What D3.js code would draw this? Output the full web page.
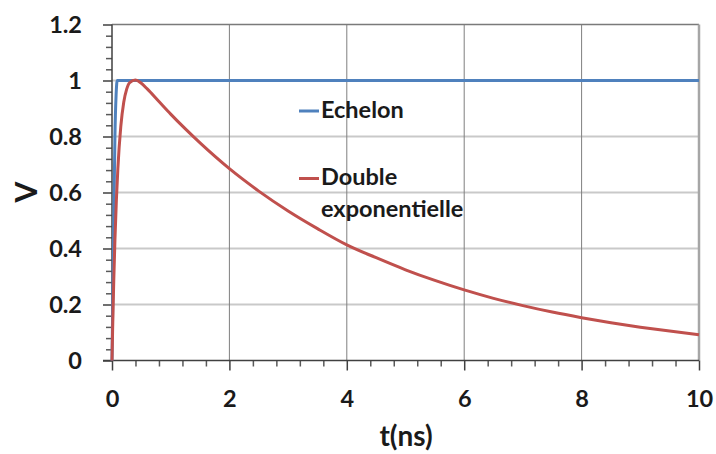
<!DOCTYPE html>
<html>
<head>
<meta charset="utf-8">
<script src="https://cdn.jsdelivr.net/npm/d3@7/dist/d3.min.js"></script>
<style>
  html, body { margin: 0; padding: 0; background: #fff; }
  svg { display: block; }
  text { font-family: Lato, "Open Sans", sans-serif; font-weight: bold; fill: #1a1a1a; }
</style>
</head>
<body>
<svg id="chart" width="716" height="454"></svg>
<script>
// ---- data ----
const xTicks = [0, 2, 4, 6, 8, 10];
const xTickLabels = ["0", "2", "4", "6", "8", "10"];
const yTicks = [0, 0.2, 0.4, 0.6, 0.8, 1, 1.2];
const yTickLabels = ["0", "0.2", "0.4", "0.6", "0.8", "1", "1.2"];
const seriesNames = ["Echelon", "Double exponentielle"];

const echelonT = [0, 0.035, 0.05, 0.07, 0.09, 10];
const echelonV = [0, 0.57, 0.8, 0.95, 1, 1];

const doubleT = [0, 0.01, 0.02, 0.03, 0.05, 0.075, 0.1, 0.15, 0.2, 0.25, 0.3, 0.4, 0.5, 0.6, 0.8,
                 1, 1.25, 1.5, 2, 2.5, 3, 3.5, 4, 4.5, 5, 5.5, 6, 6.5, 7, 7.5, 8, 8.5, 9, 9.5, 10];
const doubleV = [0, 0.105, 0.199, 0.284, 0.431, 0.575, 0.686, 0.836, 0.922, 0.969, 0.992, 1.002, 0.990, 0.970, 0.925,
                 0.880, 0.827, 0.777, 0.685, 0.605, 0.534, 0.471, 0.413, 0.367, 0.324, 0.286, 0.252, 0.222, 0.196, 0.173, 0.153, 0.135, 0.119, 0.105, 0.092];

const colors = ["#4F81BD", "#C0504D"];

// ---- layout ----
const svg = d3.select("#chart");
const x = d3.scaleLinear().domain([0, 10]).range([112, 699]);
const y = d3.scaleLinear().domain([0, 1.2]).range([360.5, 24.5]);

// horizontal gridlines
svg.append("g").selectAll("line")
  .data(yTicks.filter(v => v > 0 && v < 1.2))
  .join("line")
  .attr("x1", x(0)).attr("x2", x(10))
  .attr("y1", d => y(d)).attr("y2", d => y(d))
  .attr("stroke", "#c9c9c9").attr("stroke-width", 2);

// vertical gridlines
svg.append("g").selectAll("line")
  .data(xTicks.filter(v => v > 0 && v < 10))
  .join("line")
  .attr("x1", d => x(d)).attr("x2", d => x(d))
  .attr("y1", y(0)).attr("y2", y(1.2))
  .attr("stroke", "#7f7f7f").attr("stroke-width", 1);

// plot border: top and right
svg.append("line")
  .attr("x1", x(0)).attr("x2", x(10)).attr("y1", y(1.2)).attr("y2", y(1.2))
  .attr("stroke", "#7a7a7a").attr("stroke-width", 1.5);
svg.append("line")
  .attr("x1", x(10)).attr("x2", x(10)).attr("y1", y(1.2)).attr("y2", y(0))
  .attr("stroke", "#a6a6a6").attr("stroke-width", 2.5);

// minor ticks
const yMinor = d3.range(0, 1.2001, 0.04).filter(v => !yTicks.some(t => Math.abs(t - v) < 1e-6));
const xMinor = d3.range(0, 10.001, 0.4).filter(v => !xTicks.some(t => Math.abs(t - v) < 1e-6));

const yAxisMinor = d3.axisLeft(y).tickValues(yMinor).tickSize(6).tickFormat("");
const xAxisMinor = d3.axisBottom(x).tickValues(xMinor).tickSize(6).tickFormat("");
const gyMinor = svg.append("g").attr("transform", `translate(${x(0)},0)`).call(yAxisMinor);
const gxMinor = svg.append("g").attr("transform", `translate(0,${y(0)})`).call(xAxisMinor);
[gyMinor, gxMinor].forEach(g => {
  g.select(".domain").remove();
  g.selectAll(".tick line").attr("stroke", "#595959").attr("stroke-width", 1.5);
});

// major axes
const yAxis = d3.axisLeft(y).tickValues(yTicks).tickSize(9).tickPadding(21)
  .tickFormat((d, i) => yTickLabels[i]);
const xAxis = d3.axisBottom(x).tickValues(xTicks).tickSize(10).tickPadding(20)
  .tickFormat((d, i) => xTickLabels[i]);

const gy = svg.append("g").attr("transform", `translate(${x(0)},0)`).call(yAxis);
const gx = svg.append("g").attr("transform", `translate(0,${y(0)})`).call(xAxis);
[gy, gx].forEach(g => {
  g.select(".domain").attr("stroke", "#404040").attr("stroke-width", 1.5);
  g.selectAll(".tick line").attr("stroke", "#404040").attr("stroke-width", 1.5);
  g.selectAll(".tick text").attr("font-size", 23.5).attr("font-family", "Lato, sans-serif")
    .attr("font-weight", "bold").attr("fill", "#1a1a1a");
});
gy.select(".domain").attr("d", `M0,${y(1.2)}V${y(0)}`);
gx.select(".domain").attr("d", `M${x(0) - 9},0H${x(10)}`);

// series
const line = d3.line().x(d => x(d[0])).y(d => y(d[1])).curve(d3.curveMonotoneX);
const echelon = echelonT.map((t, i) => [t, echelonV[i]]);
const dbl = doubleT.map((t, i) => [t, doubleV[i]]);

svg.append("path").datum(echelon).attr("d", line)
  .attr("fill", "none").attr("stroke", colors[0]).attr("stroke-width", 3)
  .attr("stroke-linejoin", "round");
svg.append("path").datum(dbl).attr("d", line)
  .attr("fill", "none").attr("stroke", colors[1]).attr("stroke-width", 3)
  .attr("stroke-linejoin", "round");

// legend
const leg = svg.append("g");
leg.append("line").attr("x1", 299).attr("x2", 319).attr("y1", 111).attr("y2", 111)
  .attr("stroke", colors[0]).attr("stroke-width", 3);
leg.append("text").attr("x", 321).attr("y", 117.5).attr("font-size", 23.5).text(seriesNames[0]);
leg.append("line").attr("x1", 299).attr("x2", 319).attr("y1", 178.5).attr("y2", 178.5)
  .attr("stroke", colors[1]).attr("stroke-width", 3);
const words = seriesNames[1].split(" ");
leg.append("text").attr("x", 321).attr("y", 184.5).attr("font-size", 23.5).text(words[0]);
leg.append("text").attr("x", 321).attr("y", 216.5).attr("font-size", 23.5).text(words[1]);

// axis titles
svg.append("text").attr("transform", "translate(37,192) rotate(-90)")
  .attr("text-anchor", "middle").attr("font-size", 30).text("V");
svg.append("text").attr("x", 406).attr("y", 446)
  .attr("text-anchor", "middle").attr("font-size", 28).text("t(ns)");
</script>
</body>
</html>
